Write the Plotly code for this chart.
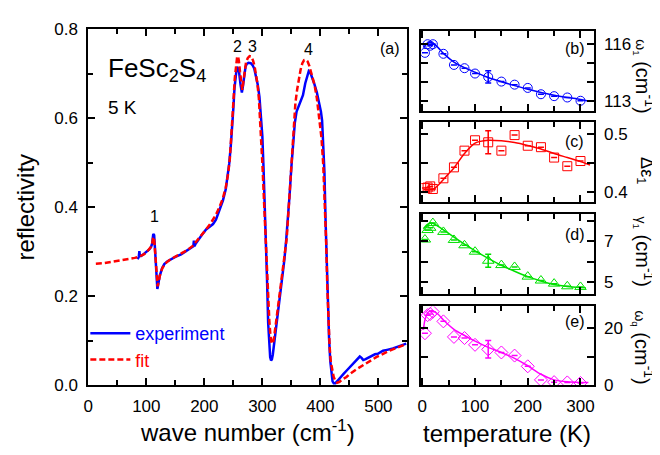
import plotly.graph_objects as go

W, H = 660, 455

# ---------------- panel (a): reflectivity spectrum ----------------
exp_wn = [85, 87, 88, 89, 91, 95, 100, 105, 108, 110, 112, 113.5, 115, 116.5, 118, 119, 120.5, 123, 127, 131,
          136, 142, 150, 160, 170, 178, 181, 182, 183, 185, 190, 196, 203, 210, 215, 220, 226, 232, 237, 240,
          243, 246, 248, 250, 252, 254, 256, 258, 260, 262.5, 264.7, 266.5, 268.7, 271, 273, 276, 280, 283, 286, 289,
          292, 295, 298, 300, 302, 304, 306, 308, 310, 312, 313.5, 315, 316.5, 318, 320, 323, 327, 331, 335, 338,
          341, 344, 347, 350, 353, 356, 359, 362, 366, 370, 374, 377, 380, 383, 386, 390, 394, 398, 401, 403,
          405, 407, 409, 411, 413, 415, 417, 419, 421, 423, 426, 430, 434, 440, 445, 450, 456, 461, 465, 468,
          471, 474, 478, 482, 488, 494, 499, 503, 508, 515, 525, 535, 548]
exp_r = [0.283, 0.288, 0.301, 0.290, 0.290, 0.294, 0.298, 0.305, 0.310, 0.318, 0.340, 0.337, 0.305, 0.260, 0.225, 0.216, 0.226, 0.245, 0.262, 0.272,
         0.278, 0.283, 0.288, 0.294, 0.302, 0.309, 0.312, 0.325, 0.312, 0.318, 0.328, 0.338, 0.350, 0.356, 0.362, 0.372, 0.392, 0.415, 0.441, 0.465,
         0.499, 0.545, 0.575, 0.622, 0.668, 0.700, 0.715, 0.713, 0.703, 0.675, 0.658, 0.672, 0.700, 0.716, 0.722, 0.725, 0.724, 0.720, 0.712, 0.697,
         0.676, 0.648, 0.605, 0.560, 0.490, 0.420, 0.345, 0.240, 0.140, 0.085, 0.062, 0.055, 0.058, 0.068, 0.090, 0.124, 0.160, 0.198, 0.245, 0.282,
         0.325, 0.372, 0.428, 0.490, 0.549, 0.590, 0.615, 0.625, 0.637, 0.652, 0.679, 0.695, 0.706, 0.702, 0.692, 0.676, 0.658, 0.635, 0.615, 0.595,
         0.550, 0.480, 0.370, 0.260, 0.175, 0.105, 0.055, 0.025, 0.008, 0.004, 0.004, 0.010, 0.017, 0.025, 0.032, 0.039, 0.047, 0.054, 0.060, 0.064,
         0.061, 0.056, 0.058, 0.061, 0.065, 0.069, 0.070, 0.073, 0.077, 0.079, 0.082, 0.087, 0.093]

fit_wn = [13, 25, 40, 55, 70, 80, 86, 95, 100, 105, 108, 110, 112, 113.5, 115, 116.5, 118, 119.5, 121, 124,
          128, 135, 142, 150, 160, 170, 180, 190, 200, 210, 220, 226, 232, 237, 241, 244, 247, 250, 252.5, 254.5,
          256.5, 258, 259.5, 261.5, 263.5, 265.5, 267.5, 269.5, 272, 275, 278, 281, 284, 286.5, 289, 291.5, 294, 297, 300, 303,
          306, 309, 312, 314, 316, 318, 320, 324, 328, 334, 340, 342, 345, 348, 351, 354, 357, 360, 363, 366,
          369, 372, 375, 378, 381, 385, 390, 394, 398, 402, 405, 408, 410, 412, 414, 416, 418, 420, 423, 426,
          429, 433, 437, 445, 451, 462, 479, 497, 519, 548]
fit_r = [0.273, 0.274, 0.277, 0.280, 0.283, 0.286, 0.288, 0.293, 0.298, 0.305, 0.311, 0.318, 0.333, 0.328, 0.300, 0.262, 0.232, 0.222, 0.230, 0.250,
         0.264, 0.276, 0.283, 0.289, 0.295, 0.303, 0.313, 0.328, 0.345, 0.362, 0.383, 0.400, 0.420, 0.445, 0.475, 0.510, 0.565, 0.635, 0.690, 0.722,
         0.738, 0.740, 0.730, 0.705, 0.675, 0.664, 0.685, 0.710, 0.727, 0.736, 0.740, 0.739, 0.730, 0.718, 0.700, 0.678, 0.645, 0.585, 0.500, 0.410,
         0.315, 0.220, 0.145, 0.110, 0.094, 0.093, 0.105, 0.145, 0.185, 0.240, 0.300, 0.330, 0.390, 0.450, 0.520, 0.590, 0.635, 0.665, 0.690, 0.710,
         0.724, 0.731, 0.732, 0.728, 0.718, 0.700, 0.675, 0.645, 0.605, 0.555, 0.495, 0.410, 0.320, 0.220, 0.140, 0.085, 0.052, 0.035, 0.018, 0.009,
         0.005, 0.007, 0.012, 0.018, 0.025, 0.035, 0.048, 0.063, 0.077, 0.092]

# ---------------- panels (b)-(e): temperature dependence ----------------
temps = [5, 10, 15, 20, 40, 60, 80, 100, 125, 150, 175, 200, 225, 250, 275, 300]
omega1 = [115.53, 115.98, 115.90, 115.98, 115.48, 114.90, 114.73, 114.45, 114.27, 114.03, 113.87, 113.70, 113.37, 113.27, 113.20, 113.03]
deps1 = [0.406, 0.407, 0.409, 0.4045, 0.423, 0.442, 0.471, 0.489, 0.4855, 0.471, 0.498, 0.4795, 0.477, 0.459, 0.444, 0.453]
gamma1 = [7.08, 7.54, 7.65, 7.88, 7.45, 7.06, 6.80, 6.49, 6.05, 5.84, 5.75, 5.28, 5.09, 4.94, 4.81, 4.78]
omegaq = [18.3, 24.7, 25.1, 25.9, 22.5, 17.0, 16.6, 14.2, 12.6, 11.5, 10.4, 6.6, 1.8, 1.0, 0.9, 0.7]

omega1_err = [None] * 8 + [0.32] + [None] * 7
deps1_err = [None] * 8 + [0.02] + [None] * 7
gamma1_err = [None] * 8 + [0.31] + [None] * 7
omegaq_err = [None] * 8 + [3.1] + [None] * 7

fitT_b = [2, 8, 15, 20, 30, 40, 60, 80, 100, 125, 150, 175, 200, 225, 250, 275, 300, 318]
fit_omega1 = [115.80, 116.00, 116.07, 116.03, 115.80, 115.50, 115.05, 114.76, 114.52, 114.24, 114.02, 113.82, 113.63, 113.46, 113.32, 113.20, 113.10, 113.00]
fitT_c = [2, 10, 20, 25, 30, 40, 50, 60, 80, 100, 125, 150, 175, 200, 225, 250, 275, 300, 318]
fit_deps1 = [0.403, 0.403, 0.404, 0.407, 0.411, 0.421, 0.431, 0.441, 0.466, 0.484, 0.489, 0.488, 0.485, 0.480, 0.474, 0.466, 0.459, 0.452, 0.446]
fitT_d = [2, 8, 15, 20, 30, 40, 60, 80, 100, 125, 150, 175, 200, 225, 250, 275, 300, 310]
fit_gamma1 = [7.60, 7.78, 7.88, 7.87, 7.72, 7.55, 7.20, 6.86, 6.53, 6.17, 5.83, 5.54, 5.28, 5.07, 4.90, 4.80, 4.75, 4.74]
fitT_e = [2, 5, 10, 15, 20, 30, 40, 60, 80, 100, 125, 150, 175, 200, 225, 250, 275, 300, 315]
fit_omegaq = [19.5, 23.0, 25.5, 26.2, 26.3, 25.0, 23.0, 19.7, 17.5, 15.5, 13.3, 11.5, 9.4, 6.8, 3.8, 1.8, 1.1, 0.9, 0.9]

BLUE, RED, GREEN, MAG = "#0000ff", "#ff0000", "#00e000", "#ff00ff"
FONT = "Liberation Sans, Arial, sans-serif"


def px(x):
    return x / W


def py(y):
    return 1 - y / H


fig = go.Figure()

fig.add_trace(go.Scatter(x=exp_wn, y=exp_r, mode="lines", line=dict(color=BLUE, width=2.5),
                         name="<span style='color:#0000ff'>experiment</span>", xaxis="x", yaxis="y"))
fig.add_trace(go.Scatter(x=fit_wn, y=fit_r, mode="lines", line=dict(color=RED, width=2.5, dash="6px,3px"),
                         name="<span style='color:#ff0000'>fit</span>", xaxis="x", yaxis="y"))

panels = [
    ("x2", "y2", temps, omega1, omega1_err, fitT_b, fit_omega1, BLUE, "circle-open", 9),
    ("x3", "y3", temps, deps1, deps1_err, fitT_c, fit_deps1, RED, "square-open", 9),
    ("x4", "y4", temps, gamma1, gamma1_err, fitT_d, fit_gamma1, GREEN, "triangle-up-open", 10),
    ("x5", "y5", temps, omegaq, omegaq_err, fitT_e, fit_omegaq, MAG, "diamond-open", 10),
]
for xa, ya, tx, ty, terr, fx, fy, col, sym, sz in panels:
    fig.add_trace(go.Scatter(x=fx, y=fy, mode="lines", line=dict(color=col, width=1.5, shape="spline", smoothing=0.8),
                             showlegend=False, xaxis=xa, yaxis=ya))
    fig.add_trace(go.Scatter(x=tx, y=ty, mode="markers",
                             marker=dict(symbol=sym, size=sz, color=col, line=dict(width=1, color=col)),
                             error_y=dict(type="data", array=terr, visible=True, color=col, thickness=1.5, width=3),
                             showlegend=False, xaxis=xa, yaxis=ya))

common = dict(showline=True, linewidth=2, linecolor="black", mirror="allticks", ticks="inside",
              tickcolor="black", tickwidth=1.5, showgrid=False, zeroline=False,
              tickfont=dict(size=17, family=FONT, color="black"))

layout = dict(
    width=W, height=H, margin=dict(l=0, r=0, t=0, b=0),
    paper_bgcolor="white", plot_bgcolor="white",
    font=dict(family=FONT, color="black"),
    showlegend=True,
    legend=dict(x=px(73), y=py(311), xanchor="left", yanchor="top", bgcolor="rgba(0,0,0,0)",
                font=dict(size=18, family=FONT), tracegroupgap=0, itemwidth=40),
    xaxis=dict(domain=[px(76), px(398)], anchor="y", range=[0, 550], tick0=0, dtick=100, ticklen=7,
               minor=dict(dtick=50, ticks="inside", ticklen=5, tickcolor="black", tickwidth=1.5),
               ticklabelstandoff=5, **common),
    yaxis=dict(domain=[py(384), py(13)], anchor="x", range=[0, 0.8], tick0=0, dtick=0.2, tickformat=".1f",
               ticklen=7, minor=dict(dtick=0.1, ticks="inside", ticklen=5, tickcolor="black", tickwidth=1.5),
               ticklabelstandoff=5, **common),
)

rdom = [px(412), px(586)]
rpanels = [
    ("xaxis2", "yaxis2", "y2", "x2", (15, 98), [112.5, 116.65], [113, 114, 115, 116], ["113", "", "", "116"]),
    ("xaxis3", "yaxis3", "y3", "x3", (110, 193), [0.382, 0.52], [0.4, 0.45, 0.5], ["0.4", "", "0.5"]),
    ("xaxis4", "yaxis4", "y4", "x4", (206, 289), [4.44, 8.3], [5, 6, 7, 8], ["5", "", "7", ""]),
    ("xaxis5", "yaxis5", "y5", "x5", (302, 384), [0, 27.8], [0, 10, 20], ["0", "", "20"]),
]
for xk, yk, yid, xid, (top, bot), yr, tv, tt in rpanels:
    layout[xk] = dict(domain=rdom, anchor=yid, range=[-2, 325], tick0=0, dtick=100, ticklen=7,
                      minor=dict(dtick=50, ticks="inside", ticklen=5, tickcolor="black", tickwidth=1.5),
                      showticklabels=(xk == "xaxis5"), ticklabelstandoff=5, **common)
    layout[yk] = dict(domain=[py(bot), py(top)], anchor=xid, side="right", range=yr,
                      tickmode="array", tickvals=tv, ticktext=tt, ticklen=7, ticklabelstandoff=5, **common)

fig.update_layout(**layout)


def ann(x, y, text, size, xanchor="center", yanchor="middle", angle=0, color="black", xref="paper", yref="paper"):
    fig.add_annotation(x=x, y=y, xref=xref, yref=yref, text=text, showarrow=False, textangle=angle,
                       xanchor=xanchor, yanchor=yanchor, font=dict(size=size, family=FONT, color=color))


# panel (a) texts
ann(px(94), py(55), "FeSc<sub>2</sub>S<sub>4</sub>", 26, xanchor="left")
ann(px(94), py(94), "5 K", 19, xanchor="left")
ann(px(380), py(33), "(a)", 16)
ann(114, 0.378, "1", 16, xref="x", yref="y")
ann(257, 0.762, "2", 16, xref="x", yref="y")
ann(283, 0.762, "3", 16, xref="x", yref="y")
ann(380, 0.756, "4", 16, xref="x", yref="y")

# axis titles
ann(px(237), py(432), "wave number (cm<sup>-1</sup>)", 24)
ann(px(13), py(198), "reflectivity", 24, angle=-90)
ann(px(499), py(435), "temperature (K)", 24)

# right panel labels
for lab, yy in [("(b)", 33), ("(c)", 130), ("(d)", 227), ("(e)", 318)]:
    ann(px(567), py(yy), lab, 16)

ann(px(637), py(62), "<span style='font-size:14px'>ω<sub>1</sub></span> (cm<sup>-1</sup>)", 20, angle=90)
ann(px(638), py(160), "Δε<sub>1</sub>", 18, angle=90)
ann(px(637), py(245), "<span style='font-size:14px'>γ<sub>1</sub></span> (cm<sup>-1</sup>)", 20, angle=90)
ann(px(637), py(345), "<span style='font-size:14px'>ω<sub>q</sub></span> (cm<sup>-1</sup>)", 20, angle=90)

fig.write_html("out.html")
